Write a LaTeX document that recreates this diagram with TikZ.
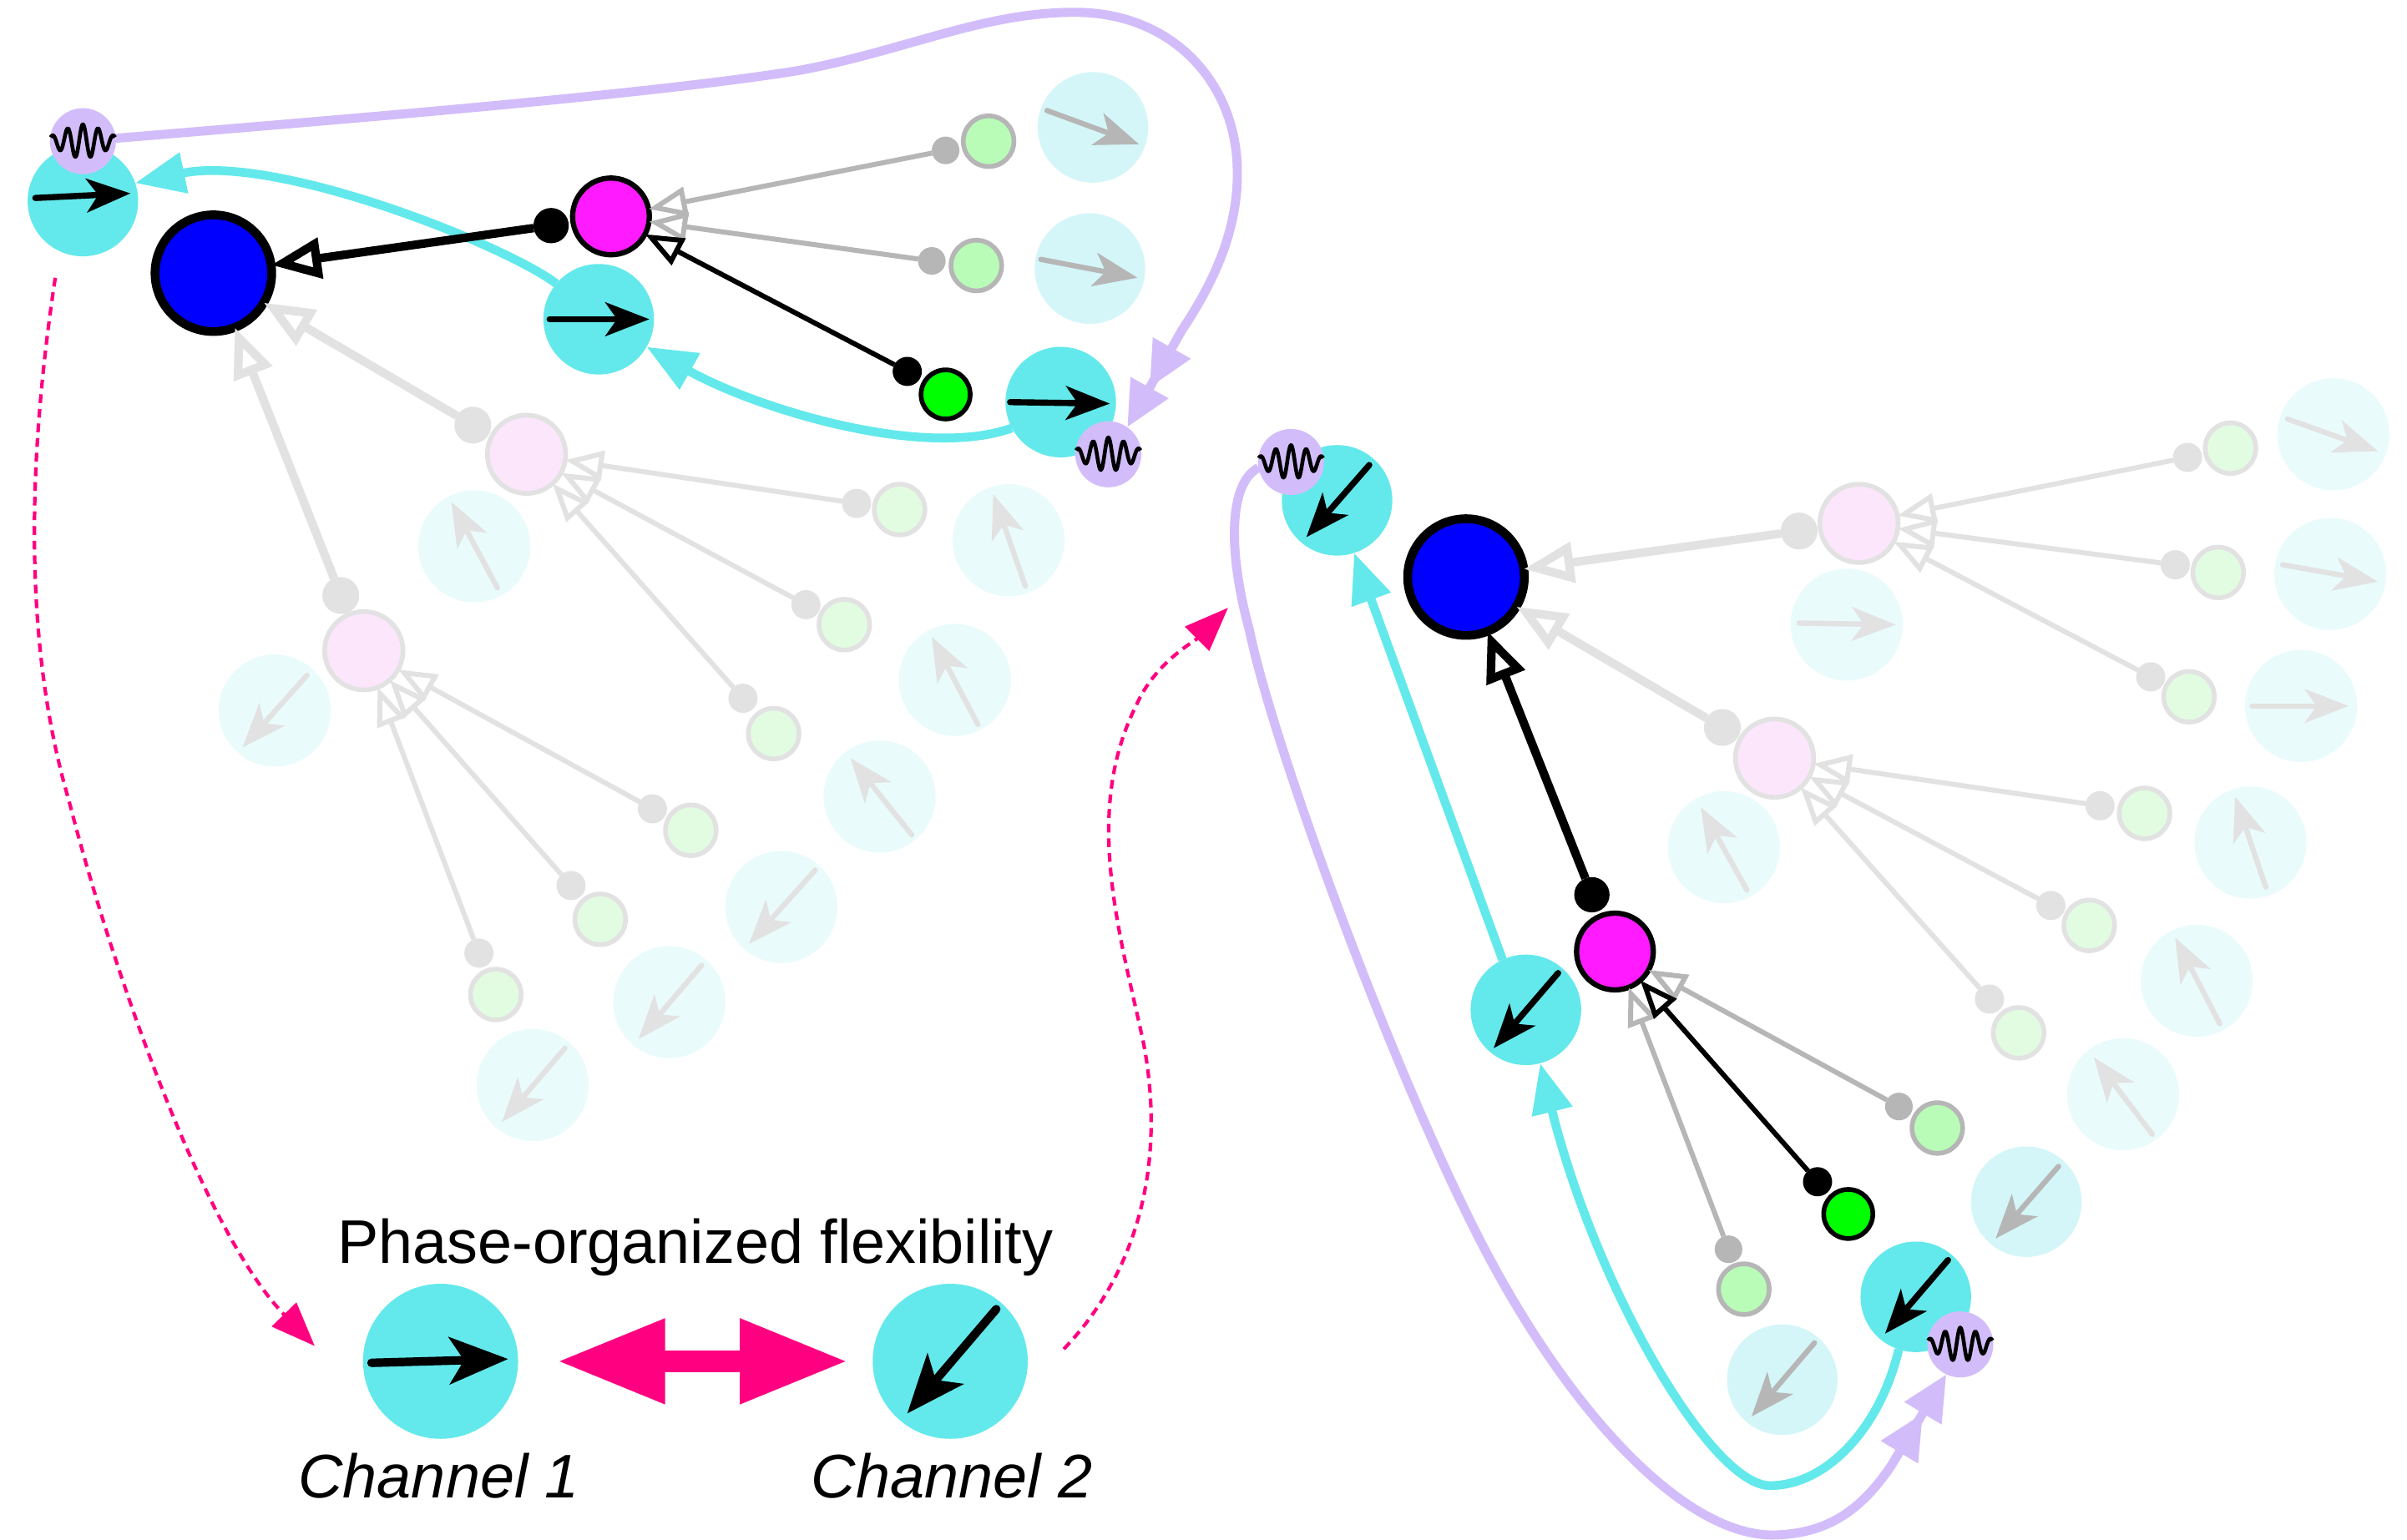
\documentclass[tikz,border=0pt]{standalone}
\usepackage{fontspec}
\setmainfont{Liberation Sans}
\usetikzlibrary{arrows.meta}

\definecolor{cyanA}{RGB}{99,233,235}
\definecolor{cyanM}{RGB}{212,246,248}
\definecolor{cyanF}{RGB}{234,251,252}
\definecolor{lilac}{RGB}{210,189,250}
\definecolor{blueN}{RGB}{0,0,255}
\definecolor{magN}{RGB}{255,26,255}
\definecolor{pinkF}{RGB}{252,230,252}
\definecolor{greenB}{RGB}{0,255,0}
\definecolor{greenM}{RGB}{184,252,184}
\definecolor{greenF}{RGB}{226,252,226}
\definecolor{grayM}{RGB}{182,182,182}
\definecolor{grayF}{RGB}{226,226,226}
\definecolor{hot}{RGB}{255,0,128}

% phase pointer inside a channel disc: style, node, tail offset, tip offset
\newcommand\vane[4]{\draw[#1] ([shift={(#3)}]#2.center) -- ([shift={(#4)}]#2.center);}
% oscillation glyph centred on a node
\newcommand\ripple[1]{\draw[black, line width=1.3pt, line join=round, shift={(#1.center)}]
  plot[domain=-1:1, samples=91, smooth] ({21*\x},{-11*exp(-1.2*(\x)^2)*cos(760*\x)});}

\begin{document}
\begin{tikzpicture}[x=0.018386cm, y=-0.018386cm,
  sz/.style={minimum size=#1*0.018386cm},
  ball/.style={circle, inner sep=0pt, outer sep=0pt},
  chan/.style={ball, fill=cyanA, sz=72},
  chanL/.style={ball, fill=cyanA, sz=101},
  chanM/.style={ball, fill=cyanM, sz=72},
  chanF/.style={ball, fill=cyanF, sz=73},
  osc/.style={ball, fill=lilac, sz=43},
  hub/.style={ball, fill=blueN, draw=black, line width=3pt, sz=76},
  relay/.style={ball, fill=magN, draw=black, line width=1.8pt, sz=50},
  relayF/.style={ball, fill=pinkF, draw=grayF, line width=1.6pt, sz=51},
  src/.style={ball, fill=greenB, draw=black, line width=1.6pt, sz=32},
  srcM/.style={ball, fill=greenM, draw=grayM, line width=1.6pt, sz=33},
  srcF/.style={ball, fill=greenF, draw=grayF, line width=1.6pt, sz=33},
  knob/.style={ball, fill=black, sz=19},
  knobM/.style={ball, fill=grayM, sz=18},
  knobF/.style={ball, fill=grayF, sz=19},
  thickK/.style={draw=black, line width=2.9pt, -{Triangle[length=17pt,width=13.5pt,fill=white]}},
  thinK/.style={draw=black, line width=1.7pt, -{Triangle[length=13pt,width=10pt,fill=white]}},
  thinM/.style={thinK, draw=grayM},
  thickF/.style={thickK, draw=grayF},
  thinF/.style={thinK, draw=grayF},
  cyanpath/.style={draw=cyanA, line width=3pt, -{Triangle[length=17pt,width=13.5pt]}},
  lilacpath/.style={draw=lilac, line width=3.1pt,
    -{Triangle[length=15.5pt,width=14pt,sep=0pt]Triangle[length=15.5pt,width=14pt]}},
  dashpath/.style={draw=hot, line width=1.2pt, dash pattern=on 3pt off 2pt,
    -{Triangle[length=15pt,width=11.5pt]}},
  twin/.style={draw=hot, line width=7.6pt,
    {Triangle[length=37pt,width=27pt]}-{Triangle[length=37pt,width=27pt]}},
  ptr/.style={draw=black, line width=2.1pt, line cap=round,
    -{Stealth[length=15pt,width=11.5pt,inset=4pt]}},
  ptrL/.style={draw=black, line width=2.9pt, line cap=round,
    -{Stealth[length=20pt,width=16pt,inset=5pt]}},
  ptrM/.style={ptr, draw=grayM, line width=1.8pt},
  ptrF/.style={ptr, draw=grayF, line width=1.8pt},
  lbl/.style={anchor=base, inner sep=0pt, font=\fontsize{21}{25}\selectfont}
]
\fill[white] (0,0) rectangle (1568,1003);
\useasboundingbox (0,0) rectangle (1568,1003);

% ---------- faint background network, first population ----------
\node[chanF] (fA1) at (309,356) {};
\node[chanF] (fA2) at (179,463) {};
\node[chanF] (fA3) at (657,352) {};
\node[chanF] (fA4) at (622,443) {};
\node[chanF] (fA5) at (573,519) {};
\node[chanF] (fA6) at (509,591) {};
\node[chanF] (fA7) at (436,653) {};
\node[chanF] (fA8) at (347,707) {};
\vane{ptrF}{fA1}{15,27}{-15,-29}
\vane{ptrF}{fA2}{21,-23}{-21,24}
\vane{ptrF}{fA3}{11,30}{-10,-30}
\vane{ptrF}{fA4}{15,29}{-15,-28}
\vane{ptrF}{fA5}{21,25}{-19,-25}
\vane{ptrF}{fA6}{22,-24}{-21,24}
\vane{ptrF}{fA7}{21,-24}{-20,24}
\vane{ptrF}{fA8}{21,-24}{-20,24}

\node[relayF] (rA) at (343,296) {};
\node[knobF, sz=24] (krA) at (308,277) {};
\node[relayF] (rB) at (237,424) {};
\node[knobF, sz=24] (krB) at (222,388) {};
\node[srcF] (gA1) at (586,332) {}; \node[knobF] (kA1) at (558,328) {};
\node[srcF] (gA2) at (550,407) {}; \node[knobF] (kA2) at (525,394) {};
\node[srcF] (gA3) at (504,478) {}; \node[knobF] (kA3) at (484,455) {};
\node[srcF] (gB1) at (450,541) {}; \node[knobF] (kB1) at (425,527) {};
\node[srcF] (gB2) at (391,599) {}; \node[knobF] (kB2) at (372,577) {};
\node[srcF] (gB3) at (323,648) {}; \node[knobF] (kB3) at (312,621) {};

% ---------- faint background network, second population ----------
\node[chanF] (fR1) at (1520,283) {};
\node[chanF] (fR2) at (1518,374) {};
\node[chanF] (fR3) at (1499,460) {};
\node[chanF] (fR4) at (1203,407) {};
\node[chanF] (fR5) at (1466,549) {};
\node[chanF] (fR6) at (1431,639) {};
\node[chanF] (fR7) at (1383,713) {};
\node[chanF] (fR8) at (1123,552) {};
\vane{ptrF}{fR1}{-30,-10}{29,11}
\vane{ptrF}{fR2}{-31,-6}{31,5}
\vane{ptrF}{fR3}{-32,0}{31,0}
\vane{ptrF}{fR4}{-31,-1}{32,0}
\vane{ptrF}{fR5}{10,29}{-10,-30}
\vane{ptrF}{fR6}{15,28}{-14,-28}
\vane{ptrF}{fR7}{19,26}{-19,-24}
\vane{ptrF}{fR8}{15,28}{-15,-26}

\node[relayF] (rC) at (1211,341) {};
\node[knobF, sz=24] (krC) at (1172,346) {};
\node[relayF] (rD) at (1156,494) {};
\node[knobF, sz=24] (krD) at (1122,474) {};
\node[srcF] (gC1) at (1453,292) {}; \node[knobF] (kC1) at (1425,298) {};
\node[srcF] (gC2) at (1445,373) {}; \node[knobF] (kC2) at (1417,368) {};
\node[srcF] (gC3) at (1426,454) {}; \node[knobF] (kC3) at (1401,441) {};
\node[srcF] (gD1) at (1397,530) {}; \node[knobF] (kD1) at (1368,525) {};
\node[srcF] (gD2) at (1361,603) {}; \node[knobF] (kD2) at (1336,590) {};
\node[srcF] (gD3) at (1315,673) {}; \node[knobF] (kD3) at (1296,651) {};

% ---------- main units ----------
\node[hub] (hubL) at (139,178) {};
\node[hub] (hubR) at (955,376) {};
\node[relay] (relL) at (398,141) {};
\node[relay] (relR) at (1052,620) {};
\node[knob, sz=23] (kL) at (359,147) {};
\node[knob, sz=23] (kR) at (1037,583) {};
\node[src] (sL) at (616,257) {}; \node[knob] (ksL) at (591,242) {};
\node[src] (sR) at (1204,791) {}; \node[knob] (ksR) at (1184,770) {};
\node[srcM] (gL1) at (644,92) {};   \node[knobM] (kgL1) at (616,98) {};
\node[srcM] (gL2) at (636,173) {};  \node[knobM] (kgL2) at (607,170) {};
\node[srcM] (gR1) at (1262,735) {}; \node[knobM] (kgR1) at (1237,721) {};
\node[srcM] (gR2) at (1136,840) {}; \node[knobM] (kgR2) at (1126,814) {};

\node[chanM] (mA1) at (712,83) {};
\node[chanM] (mA2) at (710,175) {};
\node[chanM] (mR1) at (1320,783) {};
\node[chanM] (mR2) at (1161,899) {};
\vane{ptrM}{mA1}{-30,-11}{30,11}
\vane{ptrM}{mA2}{-32,-6}{31,6}
\vane{ptrM}{mR1}{21,-23}{-20,24}
\vane{ptrM}{mR2}{21,-24}{-20,24}

\node[chan] (chA) at (54,131) {};
\node[chan] (cMid) at (390,208) {};
\node[chan] (cRight) at (691,262) {};
\node[chan] (cR1) at (871,326) {};
\node[chan] (cR2) at (994,658) {};
\node[chan] (cR3) at (1248,845) {};

% ---------- faint and grey projections ----------
\draw[thickF] (krA) -- (hubL);
\draw[thickF] (krB) -- (hubL);
\draw[thinF] (kA1) -- (rA);
\draw[thinF] (kA2) -- (rA);
\draw[thinF] (kA3) -- (rA);
\draw[thinF] (kB1) -- (rB);
\draw[thinF] (kB2) -- (rB);
\draw[thinF] (kB3) -- (rB);
\draw[thickF] (krC) -- (hubR);
\draw[thickF] (krD) -- (hubR);
\draw[thinF] (kC1) -- (rC);
\draw[thinF] (kC2) -- (rC);
\draw[thinF] (kC3) -- (rC);
\draw[thinF] (kD1) -- (rD);
\draw[thinF] (kD2) -- (rD);
\draw[thinF] (kD3) -- (rD);
\draw[thinM] (kgL1) -- (relL);
\draw[thinM] (kgL2) -- (relL);
\draw[thinM] (kgR1) -- (relR);
\draw[thinM] (kgR2) -- (relR);

% ---------- channel hand-over paths ----------
\draw[cyanpath] (cMid.140) .. controls (330,160) and (180,100) .. (chA.19);
\draw[cyanpath] (cRight.208) .. controls (600,300) and (490,265) .. (cMid.-30);
\draw[cyanpath] (cR2.115) -- (cR1.-72);
\draw[cyanpath] (cR3.252) .. controls (1225,930) and (1190,968) .. (1153,968)
  .. controls (1115,968) and (1040,840) .. (cR2.-75);

% ---------- oscillators and their feedback loops ----------
\node[osc] (pwA) at (54,92) {};
\node[osc] (pwB) at (722,296) {};
\node[osc] (pwC) at (841,301) {};
\node[osc] (pwD) at (1277,876) {};
\draw[lilacpath] (pwA.5) .. controls (220,78) and (420,62) .. (520,46)
  .. controls (590,33) and (640,8) .. (700,8)
  .. controls (765,8) and (805,55) .. (806,110)
  .. controls (807,150) and (790,185) .. (770,215) -- (pwB.55);
\draw[lilacpath] (pwC.190) .. controls (800,315) and (800,360) .. (814,411)
  .. controls (828,480) and (900,680) .. (960,800)
  .. controls (1020,920) and (1100,1005) .. (1160,1000)
  .. controls (1195,998) and (1215,980) .. (1232,955) -- (pwD.245);
\ripple{pwA}
\ripple{pwB}
\ripple{pwC}
\ripple{pwD}

% ---------- active projections ----------
\draw[thickK] (kL) -- (hubL);
\draw[thickK] (kR) -- (hubR);
\draw[thinK] (ksL) -- (relL);
\draw[thinK] (ksR) -- (relR);

\vane{ptr}{chA}{-31,-2}{31,-5}
\vane{ptr}{cMid}{-32,0}{33,0}
\vane{ptr}{cRight}{-33,0}{32,1}
\vane{ptr}{cR1}{21,-23}{-20,24}
\vane{ptr}{cR2}{21,-24}{-21,25}
\vane{ptr}{cR3}{21,-24}{-20,24}

% ---------- legend ----------
\node[lbl] (title) at (453,823) {Phase-organized flexibility};
\node[chanL] (ch1L) at (287,887) {};
\node[chanL] (ch2L) at (619,887) {};
\vane{ptrL}{ch1L}{-45,1}{44,-1.5}
\vane{ptrL}{ch2L}{30,-34}{-28,34}
\draw[twin, shorten <=0.46cm, shorten >=0.29cm] (ch1L) -- (ch2L);
\node[lbl, font=\fontsize{21}{25}\selectfont\itshape] (lab1) at (286,976) {Channel 1};
\node[lbl, font=\fontsize{21}{25}\selectfont\itshape] (lab2) at (620,976) {Channel 2};

\coordinate (dA) at (36,181);
\coordinate (dB) at (205,877);
\coordinate (dC) at (693,879);
\coordinate (dD) at (800,396);
\draw[dashpath] (dA) .. controls (18,300) and (15,420) .. (45,522)
  .. controls (70,620) and (130,800) .. (dB);
\draw[dashpath] (dC) .. controls (740,830) and (760,760) .. (745,680)
  .. controls (730,610) and (705,530) .. (740,460)
  .. controls (752,432) and (778,418) .. (dD);
\end{tikzpicture}
\end{document}
